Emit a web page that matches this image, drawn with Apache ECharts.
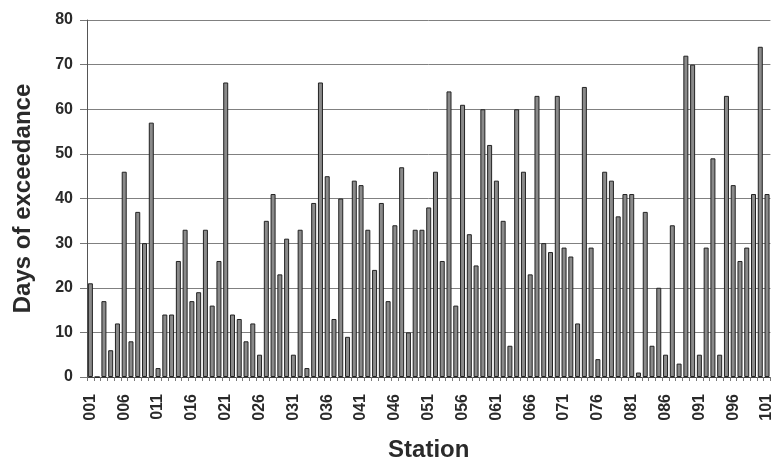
<!DOCTYPE html>
<html>
<head>
<meta charset="utf-8">
<script src="https://cdn.jsdelivr.net/npm/echarts@6/dist/echarts.min.js"></script>
<style>html,body{margin:0;padding:0;background:#fff;}#c{width:775px;height:467px;}</style>
</head>
<body>
<div id="c"></div>
<script>
const stations = ['001','002','003','004','005','006','007','008','009','010',
'011','012','013','014','015','016','017','018','019','020',
'021','022','023','024','025','026','027','028','029','030',
'031','032','033','034','035','036','037','038','039','040',
'041','042','043','044','045','046','047','048','049','050',
'051','052','053','054','055','056','057','058','059','060',
'061','062','063','064','065','066','067','068','069','070',
'071','072','073','074','075','076','077','078','079','080',
'081','082','083','084','085','086','087','088','089','090',
'091','092','093','094','095','096','097','098','099','100','101'];
const daysOfExceedance = [21,0,17,6,12,46,8,37,30,57,
2,14,14,26,33,17,19,33,16,26,
66,14,13,8,12,5,35,41,23,31,
5,33,2,39,66,45,13,40,9,44,
43,33,24,39,17,34,47,10,33,33,
38,46,26,64,16,61,32,25,60,52,
44,35,7,60,46,23,63,30,28,63,
29,27,12,65,29,4,46,44,36,41,
41,1,37,7,20,5,34,3,72,70,
5,29,49,5,63,43,26,29,41,74,41];
const yTicks = [0,10,20,30,40,50,60,70,80];

const chart = echarts.init(document.getElementById('c'), null, {renderer:'canvas'});
const font = '"Liberation Sans", Arial, sans-serif';
chart.setOption({
  animation: false,
  grid: {left: 87, top: 20, width: 693, height: 360, containLabel: false},
  xAxis: {
    type: 'category',
    data: stations,
    boundaryGap: true,
    name: 'Station',
    nameLocation: 'middle',
    nameGap: 61,
    nameTextStyle: {fontFamily: font, fontWeight: 'bold', fontSize: 24, color: '#2a2a2a'},
    axisLine: {show: true, lineStyle: {color: '#444', width: 1}},
    axisTick: {show: true, interval: 0, length: 4, lineStyle: {color: '#777'}},
    axisLabel: {interval: 4, rotate: 90, margin: 17, fontFamily: font, fontWeight: 'bold', fontSize: 16, color: '#2a2a2a'},
    splitLine: {show: false}
  },
  yAxis: {
    type: 'value',
    min: yTicks[0],
    max: yTicks[yTicks.length - 1],
    interval: 10,
    name: 'Days of exceedance',
    nameLocation: 'middle',
    nameGap: 52,
    nameTextStyle: {fontFamily: font, fontWeight: 'bold', fontSize: 24, color: '#2a2a2a'},
    axisLine: {show: true, lineStyle: {color: '#555', width: 1}},
    axisTick: {show: true, length: 7, lineStyle: {color: '#777'}},
    axisLabel: {margin: 14, fontFamily: font, fontWeight: 'bold', fontSize: 16, color: '#2a2a2a'},
    splitLine: {show: true, lineStyle: {color: '#808080', width: 1}}
  },
  series: [{
    type: 'bar',
    data: daysOfExceedance,
    barWidth: 5,
    itemStyle: {color: '#8a8a8a', borderColor: '#222', borderWidth: 1}
  }]
});
</script>
</body>
</html>
